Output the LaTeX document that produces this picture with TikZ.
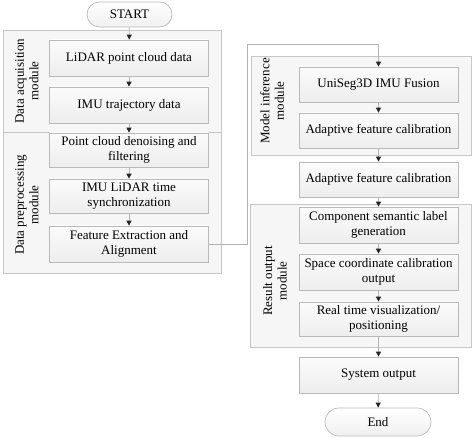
\documentclass[tikz,border=0pt]{standalone}
\usepackage{fontspec}
\setmainfont{Liberation Serif}
\usetikzlibrary{arrows.meta,shadings}
\tikzset{
  box/.style={draw=gray!55, line width=0.7pt, top color=gray!3, bottom color=gray!14,
    minimum width=159pt, inner sep=1pt, align=center,
    font=\fontsize{13}{15}\selectfont},
  pill/.style={draw=gray!55, line width=0.7pt, top color=white, bottom color=gray!12,
    rounded corners=12.5pt, align=center, inner sep=1pt,
    font=\fontsize{13}{15}\selectfont},
  group/.style={draw=gray!45, line width=0.7pt, fill=gray!7},
  grouplabel/.style={rotate=90, align=center, font=\fontsize{13}{14.5}\selectfont},
  flow/.style={draw=gray!60, line width=0.8pt,
    -{Triangle[length=5pt,width=5pt,color=gray!30!black]}},
}
\begin{document}
\begin{tikzpicture}[x=1pt,y=-1pt]
\useasboundingbox (0,0) rectangle (472,438);
% containers
\draw[group] (3,30) rectangle (221,132);
\draw[group] (3,132) rectangle (221,273);
\draw[group] (251,56) rectangle (471,155);
\draw[group] (250,204) rectangle (471,347);
% group labels
\node[grouplabel] (lacq) at (27,81) {Data acquisition\\module};
\node[grouplabel] (lpre) at (27,205) {Data preprocessing\\module};
\node[grouplabel] (lmod) at (272,101) {Model inference\\module};
\node[grouplabel] (lres) at (275,281) {Result output\\module};
% left column
\node[pill, minimum width=85pt, minimum height=25pt] (start) at (129.5,14.5) {START};
\node[box, minimum height=36pt] (lidar) at (129,58) {LiDAR point cloud data};
\node[box, minimum height=36pt] (imu) at (129,105) {IMU trajectory data};
\node[box, minimum height=34pt] (den) at (129,150) {Point cloud denoising and\\filtering};
\node[box, minimum height=34pt] (sync) at (129,196) {IMU LiDAR time\\synchronization};
\node[box, minimum height=36pt] (feat) at (129,244) {Feature Extraction and\\Alignment};
% right column
\node[box, minimum height=35pt] (uni) at (378.5,84.5) {UniSeg3D IMU Fusion};
\node[box, minimum height=35pt] (ad1) at (378.5,130.5) {Adaptive feature calibration};
\node[box, minimum height=35pt] (ad2) at (378.5,179.5) {Adaptive feature calibration};
\node[box, minimum height=36pt] (comp) at (378.5,225) {Component semantic label\\generation};
\node[box, minimum height=36pt] (space) at (378.5,272) {Space coordinate calibration\\output};
\node[box, minimum height=34pt] (real) at (378.5,319) {Real time visualization/\\positioning};
\node[box, minimum height=36pt] (sys) at (378.5,375) {System output};
\node[pill, minimum width=106pt, minimum height=28pt, rounded corners=14pt] (end) at (378,422) {End};
% connectors
\draw[flow] (start) -- (lidar);
\draw[flow] (lidar) -- (imu);
\draw[flow] (imu) -- (den);
\draw[flow] (den) -- (sync);
\draw[flow] (sync) -- (feat);
\coordinate (bend) at (247,44);
\draw[flow] (feat.east) -| (bend) -| (uni.north);
\draw[flow] (uni) -- (ad1);
\draw[flow] (ad1) -- (ad2);
\draw[flow] (ad2) -- (comp);
\draw[flow] (comp) -- (space);
\draw[flow] (space) -- (real);
\draw[flow] (real) -- (sys);
\draw[flow] (sys) -- (end);
\end{tikzpicture}
\end{document}
